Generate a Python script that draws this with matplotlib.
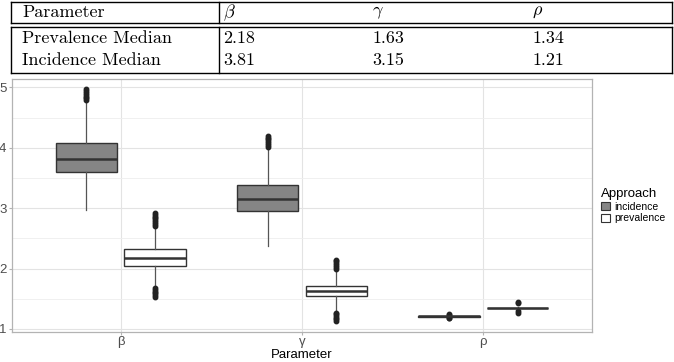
import matplotlib
matplotlib.use("Agg")
from matplotlib import pyplot as plt
from matplotlib.lines import Line2D
from matplotlib.patches import Patch

# table values
PARAMS = ["β", "γ", "ρ"]
PARAMS_TEX = [r"$\beta$", r"$\gamma$", r"$\rho$"]
PREV_MEDIANS = ["2.18", "1.63", "1.34"]
INC_MEDIANS = ["3.81", "3.15", "1.21"]

# boxplot summaries (incidence, prevalence)
INC_Q1 = [3.60, 2.96, 1.205]
INC_MED = [3.81, 3.15, 1.21]
INC_Q3 = [4.08, 3.39, 1.218]
INC_LO = [2.97, 2.38, 1.198]
INC_HI = [4.78, 4.01, 1.228]
INC_OUT = [
    [4.79, 4.82, 4.85, 4.88, 4.91, 4.94, 4.97],
    [4.02, 4.05, 4.08, 4.11, 4.14, 4.17, 4.19],
    [1.18, 1.19, 1.23, 1.25],
]

PREV_Q1 = [2.05, 1.54, 1.340]
PREV_MED = [2.18, 1.63, 1.34]
PREV_Q3 = [2.32, 1.72, 1.352]
PREV_LO = [1.68, 1.30, 1.33]
PREV_HI = [2.70, 1.99, 1.36]
PREV_OUT = [
    [1.53, 1.56, 1.59, 1.62, 1.65, 1.68, 2.71, 2.74, 2.77, 2.80, 2.83, 2.86, 2.89, 2.92],
    [1.13, 1.16, 1.19, 1.22, 1.25, 1.27, 2.00, 2.03, 2.06, 2.09, 2.12, 2.15],
    [1.27, 1.29, 1.43, 1.45],
]

W, H = 674, 362


def fx(x):
    return x / W


def fy(y):
    return 1 - y / H


plt.rcParams["mathtext.fontset"] = "cm"
fig = plt.figure(figsize=(6.74, 3.62), dpi=100)

# ---- table drawn on top ----
tl, tr, tv = 10.5, 672, 219
for y in [1.5, 22.7, 27.3, 72.7]:
    fig.add_artist(Line2D([fx(tl), fx(tr)], [fy(y), fy(y)], color="black", lw=1.0))
for x in [tl, tv, tr]:
    for y0, y1 in [(1.5, 22.7), (27.3, 72.7)]:
        fig.add_artist(Line2D([fx(x), fx(x)], [fy(y0), fy(y1)], color="black", lw=1.0))

col_x = [223, 372, 532]
tfont = dict(family="cmr10", size=13, va="center", ha="left")
fig.text(fx(22), fy(12.5), "Parameter", **tfont)
fig.text(fx(22), fy(38), "Prevalence Median", **tfont)
fig.text(fx(22), fy(60), "Incidence Median", **tfont)
for i in range(3):
    fig.text(fx(col_x[i]), fy(12.5), PARAMS_TEX[i], **tfont)
    fig.text(fx(col_x[i]), fy(38), PREV_MEDIANS[i], **tfont)
    fig.text(fx(col_x[i]), fy(60), INC_MEDIANS[i], **tfont)

# ---- boxplot panel ----
ax = fig.add_axes([fx(12), fy(332), (592 - 12) / W, (332 - 79) / H])

off, bw = 0.19, 0.34
groups = [
    ("incidence", -off, "#858585", INC_Q1, INC_MED, INC_Q3, INC_LO, INC_HI, INC_OUT),
    ("prevalence", off, "white", PREV_Q1, PREV_MED, PREV_Q3, PREV_LO, PREV_HI, PREV_OUT),
]
for name, dx, fill, q1, med, q3, lo, hi, out in groups:
    stats = []
    for i in range(3):
        stats.append(dict(q1=q1[i], med=med[i], q3=q3[i], whislo=lo[i], whishi=hi[i], fliers=out[i]))
    ax.bxp(
        stats,
        positions=[i + 1 + dx for i in range(3)],
        widths=bw,
        patch_artist=True,
        showcaps=False,
        boxprops=dict(facecolor=fill, edgecolor="#333333", linewidth=1.0),
        medianprops=dict(color="#333333", linewidth=1.8),
        whiskerprops=dict(color="#555555", linewidth=0.9),
        flierprops=dict(marker="o", markersize=3.2, markerfacecolor="#222222",
                        markeredgecolor="#222222"),
        zorder=3,
    )

ax.set_xlim(0.4, 3.6)
ax.set_ylim(0.95, 5.14)
ax.set_xticks([1, 2, 3])
ax.set_xticklabels(PARAMS, family="Liberation Sans")
ax.set_yticks([1, 2, 3, 4, 5])
ax.set_yticks([1.5, 2.5, 3.5, 4.5], minor=True)
ax.grid(True, which="major", color="#e3e3e3", lw=0.8)
ax.grid(True, which="minor", axis="y", color="#eeeeee", lw=0.6)
ax.set_axisbelow(True)
for s in ax.spines.values():
    s.set_color("#b3b3b3")
    s.set_linewidth(0.9)
ax.tick_params(axis="both", which="major", color="#b3b3b3", length=2.5, width=0.8,
               labelcolor="#4d4d4d", labelsize=9.5, pad=1.5)
ax.tick_params(axis="x", which="major", pad=0.5)
ax.tick_params(axis="both", which="minor", length=0)
for lab in ax.get_yticklabels():
    lab.set_family("Liberation Sans")
ax.set_xlabel("Parameter", family="Liberation Sans", fontsize=9.5, labelpad=0.5)

handles = [Patch(facecolor="#858585", edgecolor="#333333", lw=0.8),
           Patch(facecolor="white", edgecolor="#333333", lw=0.8)]
leg = fig.legend(handles, ["incidence", "prevalence"], title="Approach",
                 loc="upper left", bbox_to_anchor=(fx(594), fy(181)), frameon=False,
                 handlelength=0.8, handleheight=0.8, handletextpad=0.4,
                 labelspacing=0.15, prop=dict(family="Liberation Sans", size=7.5),
                 title_fontproperties=dict(family="Liberation Sans", size=9.5),
                 alignment="left", borderpad=0.2)

fig.savefig("out.png", dpi=100)
